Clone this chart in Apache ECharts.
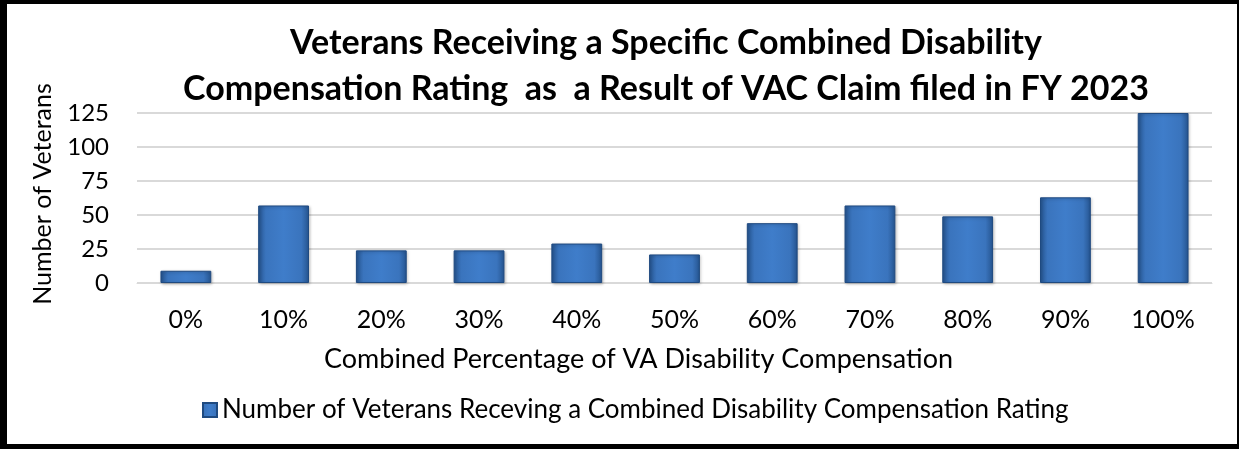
<!DOCTYPE html>
<html>
<head>
<meta charset="utf-8">
<script src="https://cdn.jsdelivr.net/npm/echarts@6/dist/echarts.min.js"></script>
<style>
  html, body { margin: 0; padding: 0; background: #fff; }
  #chart { width: 1239px; height: 449px; }
  #frame {
    position: absolute; left: 0; top: 0; width: 1239px; height: 449px;
    box-sizing: border-box; pointer-events: none;
    border-left: 7px solid #000; border-top: 4px solid #000;
    border-right: 2px solid #000; border-bottom: 5px solid #000;
  }
</style>
</head>
<body>
<div id="chart"></div>
<div id="frame"></div>
<script>
// categories on the x axis
const categories = ['0%', '10%', '20%', '30%', '40%', '50%', '60%', '70%', '80%', '90%', '100%']
// number of veterans per combined rating
const veterans = [9, 57, 24, 24, 29, 21, 44, 57, 49, 63, 125]
const seriesName = 'Number of Veterans Receving a Combined Disability Compensation Rating'

const font = 'Lato, "Open Sans", sans-serif'

const myEchart = echarts.init(document.getElementById('chart'))

const barColor = new echarts.graphic.LinearGradient(0, 0, 1, 0, [
  { offset: 0, color: '#25548f' },
  { offset: 0.15, color: '#3a74bd' },
  { offset: 0.5, color: '#3f7dca' },
  { offset: 0.85, color: '#3a74bd' },
  { offset: 1, color: '#25548f' }
])

const options = {
  animation: false,
  textStyle: { fontFamily: font },
  title: {
    text: 'Veterans Receiving a Specific Combined Disability\nCompensation Rating  as  a Result of VAC Claim filed in FY 2023',
    left: 661,
    top: 15,
    textAlign: 'center',
    textStyle: {
      fontFamily: font,
      fontSize: 34,
      fontWeight: 'bold',
      color: '#000',
      lineHeight: 46
    }
  },
  legend: {
    show: true,
    left: 197,
    top: 392,
    itemWidth: 14,
    itemHeight: 14,
    itemGap: 6,
    textStyle: { fontFamily: font, fontSize: 26, color: '#000' },
    data: [{ name: seriesName, icon: 'rect' }]
  },
  grid: {
    left: 137,
    right: 27,
    top: 113,
    bottom: 166
  },
  graphic: [
    {
      type: 'text',
      left: 324,
      top: 346,
      style: {
        text: 'Combined Percentage of VA Disability Compensation',
        font: '27px ' + font,
        fill: '#000'
      }
    },
    {
      type: 'text',
      x: 30,
      y: 194,
      rotation: Math.PI / 2,
      style: {
        text: 'Number of Veterans',
        font: '25px ' + font,
        fill: '#000',
        align: 'center'
      }
    }
  ],
  xAxis: {
    type: 'category',
    data: categories,
    axisLine: { lineStyle: { color: '#d9d9d9', width: 1 } },
    axisTick: { show: false },
    axisLabel: {
      interval: 0,
      margin: 24,
      color: '#000',
      fontSize: 25,
      fontFamily: font
    }
  },
  yAxis: {
    type: 'value',
    min: 0,
    max: 125,
    interval: 25,
    axisLine: { show: false },
    axisTick: { show: false },
    axisLabel: {
      margin: 28,
      color: '#000',
      fontSize: 24,
      fontFamily: font
    },
    splitLine: { lineStyle: { color: '#d9d9d9', width: 2 } }
  },
  series: [
    {
      name: seriesName,
      type: 'bar',
      barWidth: '52%',
      data: veterans,
      itemStyle: {
        color: barColor,
        borderColor: '#1f4a80',
        borderWidth: 1,
        shadowColor: 'rgba(0,0,0,0.25)',
        shadowBlur: 3,
        shadowOffsetX: 1,
        shadowOffsetY: 1
      }
    }
  ]
}
myEchart.setOption(options)
</script>
</body>
</html>
